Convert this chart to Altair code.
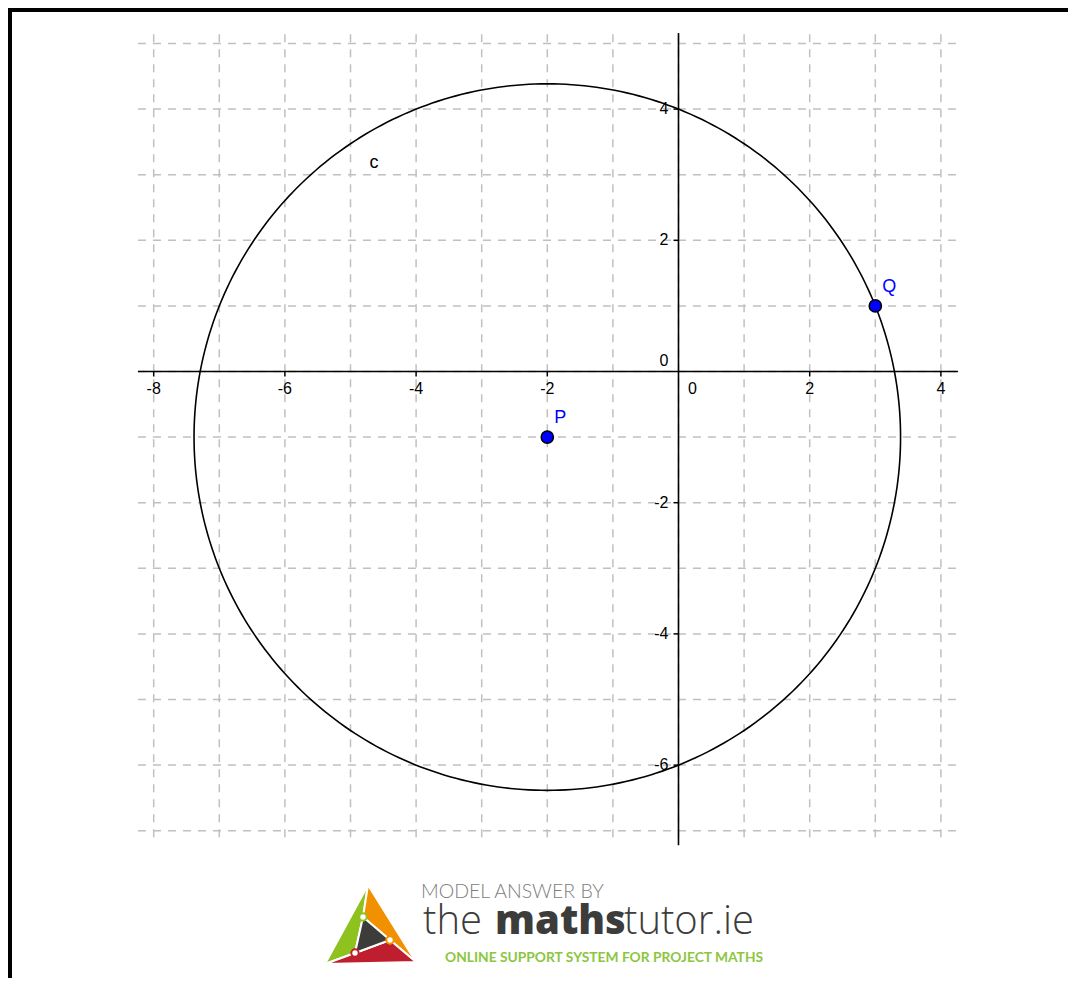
import math
import altair as alt
import pandas as pd

# ---------------- data ----------------
grid_x = list(range(-8, 5))          # vertical dashed grid lines
grid_y = list(range(-7, 6))          # horizontal dashed grid lines
x_ticks = [-8, -6, -4, -2, 2, 4]
x_tick_labels = ["-8", "-6", "-4", "-2", "2", "4"]
y_ticks = [-6, -4, -2, 2, 4]
y_tick_labels = ["-6", "-4", "-2", "2", "4"]
point_names = ["P", "Q"]
point_x = [-2, 3]
point_y = [-1, 1]
curve_name = ["c"]
curve_label_x = [-4.64]
curve_label_y = [3.18]
grid_x_extent = [-8.24, 4.26]
grid_y_extent = [-7.1, 5.16]
axis_y_extent = [-7.22, 5.16]

# ---------------- layout ----------------
W, H = 1060, 970
X0, Y0 = 670.5, 363.5   # origin inside the view (px)
S = 65.6                # px per unit
xs = alt.Scale(domain=[-X0 / S, (W - X0) / S], nice=False, zero=False)
ys = alt.Scale(domain=[(Y0 - H) / S, Y0 / S], nice=False, zero=False)
FONT = "Liberation Sans"


def X(f):
    return alt.X(f, type="quantitative", scale=xs, axis=None)


def Y(f):
    return alt.Y(f, type="quantitative", scale=ys, axis=None)


def page(px, py):
    return ((px - 8 - X0) / S, (Y0 - (py - 8)) / S)


GRID = dict(color="#c0c0c0", strokeWidth=1.5, strokeDash=[8, 7])

hgrid = alt.Chart(pd.DataFrame({"y": grid_y, "x0": grid_x_extent[0], "x1": grid_x_extent[1]})).mark_rule(**GRID).encode(
    x=X("x0"), x2="x1", y=Y("y"))
vgrid = alt.Chart(pd.DataFrame({"x": grid_x, "y0": grid_y_extent[0], "y1": grid_y_extent[1]})).mark_rule(**GRID).encode(
    x=X("x"), y=Y("y0"), y2="y1")

xaxis = alt.Chart(pd.DataFrame({"x0": [grid_x_extent[0]], "x1": [grid_x_extent[1]], "y": [0]})).mark_rule(
    color="black", strokeWidth=1.6).encode(x=X("x0"), x2="x1", y=Y("y"))
yaxis = alt.Chart(pd.DataFrame({"x": [0], "y0": [axis_y_extent[0]], "y1": [axis_y_extent[1]]})).mark_rule(
    color="black", strokeWidth=1.6).encode(x=X("x"), y=Y("y0"), y2="y1")

xt_df = pd.DataFrame({"x": x_ticks, "y": 0, "lab": x_tick_labels})
yt_df = pd.DataFrame({"y": y_ticks, "x": 0, "lab": y_tick_labels})

xtick = alt.Chart(xt_df).mark_rule(color="black", strokeWidth=1.5, y2Offset=5).encode(
    x=X("x"), y=Y("y"), y2="y")
ytick = alt.Chart(yt_df).mark_rule(color="black", strokeWidth=1.5, x2Offset=-5).encode(
    y=Y("y"), x=X("x"), x2="x")

xlab = alt.Chart(xt_df).mark_text(font=FONT, fontSize=16, dy=17, baseline="middle", align="center",
                                  color="black").encode(x=X("x"), y=Y("y"), text="lab:N")
ylab = alt.Chart(yt_df).mark_text(font=FONT, fontSize=16, dx=-10, baseline="middle", align="right",
                                  color="black").encode(x=X("x"), y=Y("y"), text="lab:N")
zero_df = pd.DataFrame({"x": [0], "y": [0], "lab": ["0"]})
xzero = alt.Chart(zero_df).mark_text(font=FONT, fontSize=16, dx=14, dy=17, baseline="middle",
                                     color="black").encode(x=X("x"), y=Y("y"), text="lab:N")
yzero = alt.Chart(zero_df).mark_text(font=FONT, fontSize=16, dx=-10, dy=-11, baseline="middle", align="right",
                                     color="black").encode(x=X("x"), y=Y("y"), text="lab:N")

# circle c: centre P, through Q
cx, cy = point_x[0], point_y[0]
r = math.hypot(point_x[1] - point_x[0], point_y[1] - point_y[0])
circle = alt.Chart(alt.sequence(0, 361, 1, as_="t")).transform_calculate(
    cxv=f"{cx} + {r} * cos(datum.t * PI / 180)",
    cyv=f"{cy} + {r} * sin(datum.t * PI / 180)",
).mark_line(color="black", strokeWidth=1.6).encode(x=X("cxv"), y=Y("cyv"), order="t:Q")

pts_df = pd.DataFrame({"x": point_x, "y": point_y, "name": point_names})
pts = alt.Chart(pts_df).mark_circle(size=150, fill="#0000ff", stroke="black", strokeWidth=1.5, opacity=1).encode(
    x=X("x"), y=Y("y"))
pts_lab = alt.Chart(pts_df).mark_text(font=FONT, fontSize=18, dx=7, dy=-19, align="left", baseline="middle",
                                      color="#0000ff").encode(x=X("x"), y=Y("y"), text="name:N")
c_lab = alt.Chart(pd.DataFrame({"x": curve_label_x, "y": curve_label_y, "lab": curve_name})).mark_text(
    font=FONT, fontSize=18, baseline="middle", align="center", color="black").encode(
    x=X("x"), y=Y("y"), text="lab:N")

# frame
top_border = alt.Chart().mark_rule(color="black", strokeWidth=4).encode(
    x=alt.value(0), x2=alt.value(W), y=alt.value(2))
left_border = alt.Chart().mark_rule(color="black", strokeWidth=4).encode(
    x=alt.value(2), y=alt.value(0), y2=alt.value(H))

# ---------------- logo (decoration) ----------------
apex, bl, br = (368, 885), (325, 964), (416, 962)
n1, n2, n3 = (363, 917), (390, 940), (355, 953)
polys = [
    ("#8dc21f", [apex, n1, n3, bl, apex]),
    ("#f29100", [apex, br, n2, n1, apex]),
    ("#be1e2d", [bl, n3, n2, br, bl]),
    ("#3c3c3b", [n1, n2, n3, n1]),
]
logo_layers = []
for col, verts in polys:
    rows = []
    for i, (px, py) in enumerate(verts):
        ux, uy = page(px, py)
        rows.append({"x": ux, "y": uy, "o": i})
    logo_layers.append(
        alt.Chart(pd.DataFrame(rows)).mark_line(fill=col, stroke="white", strokeWidth=2, strokeJoin="round").encode(
            x=X("x"), y=Y("y"), order="o:Q"))
nodes = []
for (px, py), col in [(n1, "#8dc21f"), (n2, "#f29100"), (n3, "#be1e2d")]:
    ux, uy = page(px, py)
    nodes.append({"x": ux, "y": uy, "c": col})
logo_nodes = alt.Chart(pd.DataFrame(nodes)).mark_point(filled=True, fill="white", size=55, strokeWidth=2,
                                                         opacity=1).encode(
    x=X("x"), y=Y("y"), stroke=alt.Stroke("c:N", scale=None))

texts = [
    ("MODEL ANSWER BY", 421, 898, 19.5, 300, "#7d7d7d", "Lato"),
    ("the", 423, 934, 40, 300, "#3c3c3b", "Open Sans"),
    ("maths", 495, 934, 40, 800, "#3c3c3b", "Open Sans"),
    ("tutor.ie", 624, 934, 40, 300, "#3c3c3b", "Open Sans"),
    ("ONLINE SUPPORT SYSTEM FOR PROJECT MATHS", 445, 962, 13.8, 700, "#8cc63f", "Lato"),
]
logo_text = []
for t, px, py, fs, fw, col, fnt in texts:
    ux, uy = page(px, py)
    logo_text.append(
        alt.Chart(pd.DataFrame({"x": [ux], "y": [uy], "t": [t]})).mark_text(
            font=fnt, fontSize=fs, fontWeight=fw, color=col, align="left", baseline="alphabetic").encode(
            x=X("x"), y=Y("y"), text="t:N"))

chart = alt.layer(
    hgrid, vgrid, xaxis, yaxis, xtick, ytick, xlab, ylab, xzero, yzero,
    circle, pts, pts_lab, c_lab, top_border, left_border,
    *logo_layers, logo_nodes, *logo_text,
).properties(
    width=W, height=H, padding=0, autosize=alt.AutoSizeParams(type="none"), background="white"
).configure_view(strokeWidth=0)

chart.save("out.html", embed_options={"renderer": "svg", "actions": False})
